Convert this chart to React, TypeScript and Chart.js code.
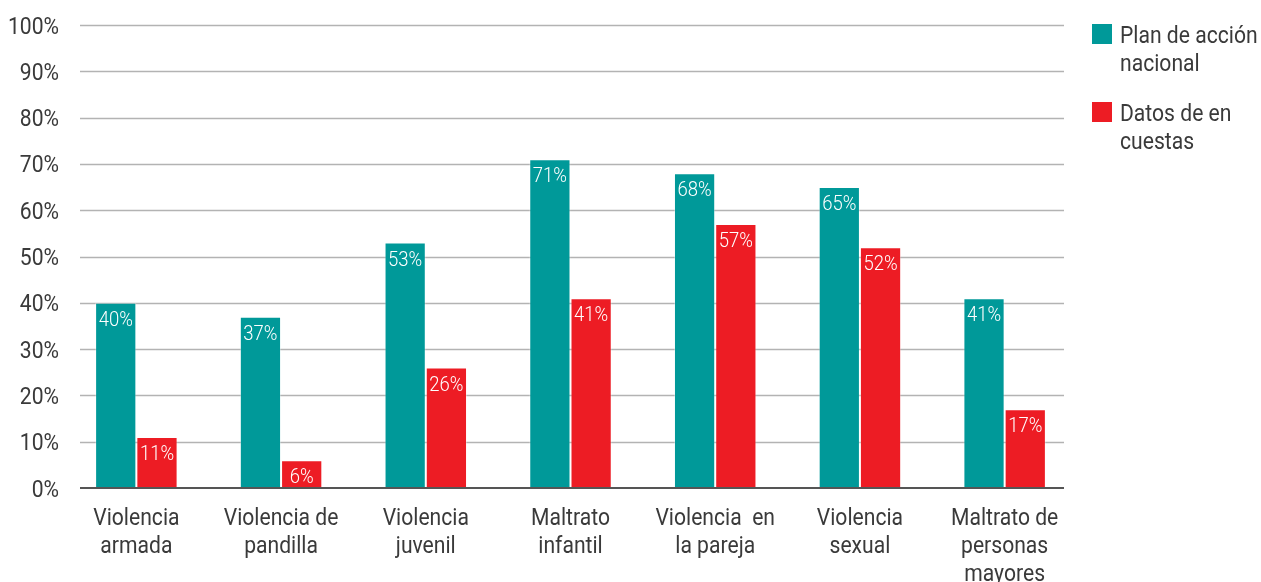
import React, { useEffect, useRef } from "react";
import { Chart, registerables } from "chart.js";
Chart.register(...registerables);

const categories: string[][] = [
  ["Violencia", "armada"],
  ["Violencia de", "pandilla"],
  ["Violencia", "juvenil"],
  ["Maltrato", "infantil"],
  ["Violencia  en", "la pareja"],
  ["Violencia", "sexual"],
  ["Maltrato de", "personas", "mayores"],
];
const seriesNames = ["Plan de acción nacional", "Datos de en cuestas"];
const legendLines: string[][] = [
  ["Plan de acción", "nacional"],
  ["Datos de en", "cuestas"],
];
const planNacional = [40, 37, 53, 71, 68, 65, 41];
const datosEncuestas = [11, 6, 26, 41, 57, 52, 17];
const yTicks = [0, 10, 20, 30, 40, 50, 60, 70, 80, 90, 100];

const TEAL = "#009999";
const RED = "#ED1C24";
const FONT_FAMILY = "Roboto, 'Liberation Sans', sans-serif";
const TEXT = "#3a3a3a";
const SQUEEZE = 0.88;

function squeezedText(ctx: CanvasRenderingContext2D, text: string, x: number, y: number, align: "left" | "right" | "center") {
  ctx.save();
  ctx.translate(x, y);
  ctx.scale(SQUEEZE, 1);
  ctx.textAlign = align;
  ctx.fillText(text, 0, 0);
  ctx.restore();
}

const gridPlugin = {
  id: "customGrid",
  beforeDatasetsDraw(chart: any) {
    const { ctx, chartArea, scales } = chart;
    const y = scales.y;
    const x0 = chartArea.left + 16;
    const x1 = chartArea.right - 13;
    ctx.save();
    ctx.strokeStyle = "#b3b3b3";
    ctx.lineWidth = 1.3;
    yTicks.forEach((t) => {
      if (t === 0) return;
      const py = Math.round(y.getPixelForValue(t)) + 0.5;
      ctx.beginPath();
      ctx.moveTo(x0, py);
      ctx.lineTo(x1, py);
      ctx.stroke();
    });
    ctx.restore();
  },
  afterDatasetsDraw(chart: any) {
    const { ctx, chartArea, scales } = chart;
    const y = scales.y;
    const x = scales.x;
    const x0 = chartArea.left + 16;
    const x1 = chartArea.right - 13;
    ctx.save();
    ctx.strokeStyle = "#555555";
    ctx.lineWidth = 2;
    const py0 = y.getPixelForValue(0);
    ctx.beginPath();
    ctx.moveTo(x0, py0);
    ctx.lineTo(x1, py0);
    ctx.stroke();

    ctx.textBaseline = "alphabetic";

    // value labels
    ctx.fillStyle = "#ffffff";
    ctx.font = `300 21px ${FONT_FAMILY}`;
    chart.data.datasets.forEach((ds: any, di: number) => {
      const meta = chart.getDatasetMeta(di);
      meta.data.forEach((bar: any, i: number) => {
        squeezedText(ctx, `${ds.data[i]}%`, bar.x, bar.y + 23, "center");
      });
    });

    // y tick labels
    ctx.fillStyle = TEXT;
    ctx.font = `400 24px ${FONT_FAMILY}`;
    yTicks.forEach((t) => {
      squeezedText(ctx, `${t}%`, chartArea.left - 5, y.getPixelForValue(t) + 8.5, "right");
    });

    // x tick labels
    categories.forEach((lines, i) => {
      const cx = x.getPixelForValue(i);
      lines.forEach((line, li) => {
        squeezedText(ctx, line, cx, py0 + 37 + li * 28, "center");
      });
    });
    ctx.restore();
  },
};

const legendPlugin = {
  id: "customLegend",
  afterDraw(chart: any) {
    const { ctx, chartArea } = chart;
    const bx = chartArea.right + 15;
    ctx.save();
    ctx.font = `400 24px ${FONT_FAMILY}`;
    ctx.textBaseline = "alphabetic";
    let top = 24;
    chart.data.datasets.forEach((ds: any, i: number) => {
      ctx.fillStyle = ds.backgroundColor;
      ctx.fillRect(bx, top, 20, 20);
      ctx.fillStyle = TEXT;
      legendLines[i].forEach((line, li) => {
        squeezedText(ctx, line, bx + 28, top + 19 + li * 28, "left");
      });
      top += 78;
    });
    ctx.restore();
  },
};

export default function App() {
  const ref = useRef<HTMLCanvasElement>(null);
  useEffect(() => {
    if (!ref.current) return;
    const chart = new Chart(ref.current, {
      type: "bar",
      data: {
        labels: categories.map((c) => c.join(" ")),
        datasets: [
          {
            label: seriesNames[0],
            data: planNacional,
            backgroundColor: TEAL,
            borderColor: "rgba(255,255,255,0.35)",
            borderWidth: 1,
            categoryPercentage: 0.57,
            barPercentage: 1,
          },
          {
            label: seriesNames[1],
            data: datosEncuestas,
            backgroundColor: RED,
            borderColor: "rgba(255,255,255,0.35)",
            borderWidth: 1,
            categoryPercentage: 0.57,
            barPercentage: 1,
          },
        ],
      },
      options: {
        animation: false,
        responsive: false,
        maintainAspectRatio: false,
        layout: { padding: { top: 25, right: 184, bottom: 0, left: 0 } },
        plugins: {
          legend: { display: false },
          tooltip: { enabled: false },
        },
        scales: {
          x: {
            grid: { display: false, drawTicks: false },
            border: { display: false },
            ticks: { display: false },
            afterFit(scale: any) {
              scale.height = 94;
            },
          },
          y: {
            min: 0,
            max: 100,
            grid: { display: false, drawTicks: false },
            border: { display: false },
            ticks: { display: false, stepSize: 10 },
            afterFit(scale: any) {
              scale.width = 64;
            },
          },
        },
      },
      plugins: [gridPlugin, legendPlugin],
    });
    return () => chart.destroy();
  }, []);
  return (
    <div style={{ position: "fixed", left: 0, top: 0, width: 1261, height: 582, background: "#fff" }}>
      <canvas ref={ref} width={1261} height={582} style={{ width: 1261, height: 582 }} />
    </div>
  );
}
